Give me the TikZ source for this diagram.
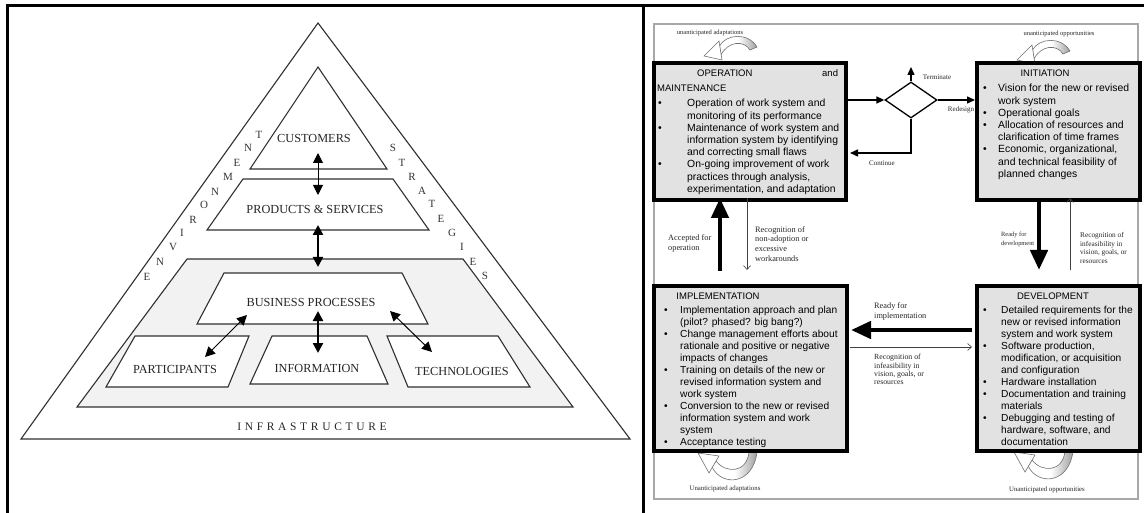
\documentclass[tikz,border=0pt]{standalone}
\usepackage{fontspec}
\setmainfont{Liberation Serif}
\setsansfont{Liberation Sans}
\usetikzlibrary{arrows.meta,shapes.geometric,shadings}
\definecolor{ln}{HTML}{303030}
\definecolor{trapfill}{HTML}{F2F2F2}
\definecolor{boxfill}{HTML}{E2E2E2}
\definecolor{rim}{HTML}{A8A8A8}
\definecolor{bandgray}{HTML}{A0A0A0}
\definecolor{bandline}{HTML}{707070}
\newcommand\TopTurn{%
  \shadedraw[left color=white,right color=bandgray,middle color=white,draw=bandline,line width=0.6pt]
    (719.5,46) .. controls (726,34) and (748,32) .. (757,47) -- (750,50) .. controls (744,40) and (728,41) .. (721,55) -- cycle;
  \filldraw[fill=white,draw=bandline,line width=0.6pt] (704,56) -- (719,41) -- (722,60) -- cycle;}
\newcommand\BotTurn{%
  \shadedraw[left color=white,right color=bandgray,middle color=white,draw=bandline,line width=0.6pt]
    (712,467) .. controls (722,487) and (753,485) .. (757,452) -- (749,452) .. controls (747,473) and (726,474) .. (716,461) -- cycle;
  \filldraw[fill=white,draw=bandline,line width=0.6pt] (698,453) -- (719,456) -- (709,473) -- cycle;}
\begin{document}
\begin{tikzpicture}[x=1pt,y=-1pt,
  frame/.style={draw=black,line width=3pt},
  tri/.style={draw=ln,line width=1.1pt,line join=miter},
  lbl/.style={font=\fontsize{12.3}{14}\selectfont,text=black!85,inner sep=0pt},
  ltr/.style={font=\fontsize{11}{12}\selectfont,text=black!80,inner sep=0pt},
  infra/.style={font=\fontsize{11.5}{13}\selectfont\addfontfeature{LetterSpace=32},text=black!85,inner sep=0pt},
  dblthin/.style={{Triangle[length=10pt,width=10pt]}-{Triangle[length=10pt,width=10pt]},line width=1pt,draw=black},
  dblthick/.style={{Triangle[length=10pt,width=10pt]}-{Triangle[length=10pt,width=10pt]},line width=2.2pt,draw=black},
  stagebox/.style={draw=black,line width=4pt,fill=boxfill,inner sep=0pt,outer sep=0pt},
  otxt/.style={font=\sffamily\fontsize{10.4}{12}\selectfont,anchor=base west,inner sep=0pt},
  itxt/.style={font=\sffamily\fontsize{10.2}{12}\selectfont,anchor=base west,inner sep=0pt},
  ttl/.style={font=\sffamily\fontsize{9.5}{11}\selectfont,inner sep=0pt},
  nt/.style={align=left,inner sep=0pt,anchor=north west,text=black!85},
  sarr/.style={-{Triangle[length=8pt,width=7pt]},line width=1.4pt},
  barr/.style={-{Triangle[length=20pt,width=17pt]},line width=4.5pt},
  tarr/.style={-{Straight Barb[length=4pt,width=7pt]},line width=0.6pt,draw=black!75}
]
\useasboundingbox (0,0) rectangle (1144,513);
% ---------- frame ----------
\draw[frame] (7,513) -- (7,6) -- (1144,6);
\draw[frame] (643,6) -- (643,513);

% ---------- left panel ----------
\draw[tri] (318,23) -- (21,439) -- (630,439) -- cycle;
\filldraw[tri,fill=trapfill] (187,259) -- (463,259) -- (573,407) -- (77,407) -- cycle;
\filldraw[tri,fill=white] (318,67) -- (387,169) -- (250,169) -- cycle;
\filldraw[tri,fill=white] (243,179) -- (393,179) -- (429,230) -- (207,230) -- cycle;
\filldraw[tri,fill=white] (224,273) -- (402,273) -- (428,324) -- (197,324) -- cycle;
\filldraw[tri,fill=white] (135,336) -- (249,336) -- (228,387) -- (106,387) -- cycle;
\filldraw[tri,fill=white] (272,336) -- (367,336) -- (388,384) -- (250,384) -- cycle;
\filldraw[tri,fill=white] (387,336) -- (498,336) -- (530,387) -- (408,387) -- cycle;

\node[lbl] (cust) at (314,138) {CUSTOMERS};
\node[lbl] (prod) at (315,210) {PRODUCTS \& SERVICES};
\node[lbl] (bp) at (311,302) {BUSINESS PROCESSES};
\node[lbl] (part) at (175,369) {PARTICIPANTS};
\node[lbl] (info) at (317,368) {INFORMATION};
\node[lbl] (tech) at (462,371) {TECHNOLOGIES};
\node[infra] (infr) at (312,427) {INFRASTRUCTURE};

\coordinate (cp1) at (318,153); \coordinate (cp2) at (318,195);
\coordinate (pb1) at (318,225); \coordinate (pb2) at (318,267);
\coordinate (bi1) at (318,311); \coordinate (bi2) at (318,353);
\coordinate (bpa1) at (247,315); \coordinate (bpa2) at (205,357);
\coordinate (bt1) at (390,311); \coordinate (bt2) at (432,352);
\draw[dblthin] (cp1) -- (cp2);
\draw[dblthick] (pb1) -- (pb2);
\draw[dblthick] (bi1) -- (bi2);
\draw[dblthin] (bpa1) -- (bpa2);
\draw[dblthin] (bt1) -- (bt2);

\foreach \c/\x/\y [count=\i] in {E/147/277,N/160/262,V/173/247,I/182/233,R/193/220,O/204/205,N/215/192,M/228/177,E/237/163,N/248/148,T/259/135}
  \node[ltr] (env\i) at (\x,\y) {\c};
\foreach \c/\x/\y [count=\i] in {S/393/148,T/402/163,R/412/177,A/422/191,T/432/204,E/441/219,G/452/233,I/462/247,E/473/262,S/485/276}
  \node[ltr] (str\i) at (\x,\y) {\c};

% ---------- right panel ----------
\draw[draw=rim,line width=1.5pt] (654,24) rectangle (1138,499);

\TopTurn
\begin{scope}[shift={(313,4)}]\TopTurn\end{scope}
\BotTurn
\begin{scope}[shift={(316,-1)}]\BotTurn\end{scope}

\node[nt,anchor=center,font=\fontsize{6.5}{7}\selectfont] (ua) at (710,33) {unanticipated adaptations};
\node[nt,anchor=center,font=\fontsize{6.5}{7}\selectfont] (uo) at (1059,34) {unanticipated opportunities};
\node[nt,anchor=center,font=\fontsize{6.8}{7}\selectfont] (Ua) at (725,489) {Unanticipated adaptations};
\node[nt,anchor=center,font=\fontsize{6.8}{7}\selectfont] (Uo) at (1047,490) {Unanticipated opportunities};

\node[stagebox,minimum width=192pt,minimum height=137pt] (op) at (750,131.5) {};
\node[stagebox,minimum width=163pt,minimum height=137pt] (init) at (1058.5,131.5) {};
\node[stagebox,minimum width=193pt,minimum height=165pt] (impl) at (750.5,368.5) {};
\node[stagebox,minimum width=163pt,minimum height=165pt] (dev) at (1058.5,368.5) {};

% operation text
\node[ttl,anchor=base west] (opt1) at (697,77) {OPERATION};
\node[ttl,anchor=base west] (opt2) at (822,77) {and};
\node[ttl,anchor=base west] (opt3) at (657,92) {MAINTENANCE};
\foreach \t [count=\i from 0] in {Operation of work system and,monitoring of its performance,Maintenance of work system and,information system by identifying,and correcting small flaws,On-going improvement of work,{practices through analysis,},{experimentation, and adaptation}}
  \node[otxt] (opl\i) at (687,107+12.2*\i) {\t};
\foreach \i in {0,2,5}
  \node[otxt] (opb\i) at (658,107+12.2*\i) {•};

% initiation text
\node[ttl,anchor=base] (init0) at (1045,77) {INITIATION};
\foreach \t [count=\i from 0] in {Vision for the new or revised,work system,Operational goals,Allocation of resources and,clarification of time frames,{Economic, organizational,},and technical feasibility of,planned changes}
  \node[otxt] (inl\i) at (998,92+12.2*\i) {\t};
\foreach \i in {0,2,3,5}
  \node[otxt] (inb\i) at (983,92+12.2*\i) {•};

% implementation text
\node[ttl,anchor=base] (imp0) at (718,299.5) {IMPLEMENTATION};
\foreach \t [count=\i from 0] in {Implementation approach and plan,(pilot? phased? big bang?),Change management efforts about,rationale and positive or negative,impacts of changes,Training on details of the new or,revised information system and,work system,Conversion to the new or revised,information system and work,system,Acceptance testing}
  \node[itxt] (iml\i) at (680,313.6+12*\i) {\t};
\foreach \i in {0,2,5,8,11}
  \node[itxt] (imb\i) at (664,313.6+12*\i) {•};

% development text
\node[ttl,anchor=base] (dev0) at (1053,299.5) {DEVELOPMENT};
\foreach \t [count=\i from 0] in {Detailed requirements for the,new or revised information,system and work system,{Software production,},{modification, or acquisition},and configuration,Hardware installation,Documentation and training,materials,Debugging and testing of,{hardware, software, and},documentation}
  \node[itxt] (dvl\i) at (1001,313.6+12*\i) {\t};
\foreach \i in {0,3,6,7,9}
  \node[itxt] (dvb\i) at (983,313.6+12*\i) {•};

% decision diamond
\node[draw=black,line width=1.3pt,diamond,minimum width=52pt,minimum height=36pt,inner sep=0pt] (dia) at (911,100) {};
\coordinate (term) at (911,67);
\coordinate (cont) at (911,153);
\draw[sarr] (op.east |- dia.west) -- (dia.west);
\draw[sarr] (dia.north) -- (term);
\draw[sarr] (dia.east) -- ([xshift=-2pt]init.west |- dia.east);
\draw[sarr] (dia.south) -- (cont) -- ([xshift=4pt]op.east |- cont);
\node[nt,anchor=center,font=\fontsize{7}{8}\selectfont] (termt) at (937,77) {Terminate};
\node[nt,anchor=center,font=\fontsize{7}{8}\selectfont] (redt) at (961,110) {Redesign};
\node[nt,anchor=center,font=\fontsize{7}{8}\selectfont] (contt) at (882,163) {Continue};

% transitions between stages
\coordinate (acc0) at (720,271);
\coordinate (na0) at (747,270);
\coordinate (rd1) at (1039,270);
\coordinate (if0) at (1070,270);
\coordinate (ri0) at (972,330); \coordinate (ri1) at (851,330);
\coordinate (ir0) at (850,347); \coordinate (ir1) at (972,347);
\draw[barr] (acc0) -- ([yshift=2pt]op.south -| acc0);
\draw[tarr] ([yshift=2pt]op.south -| na0) -- (na0);
\draw[barr] ([yshift=2pt]init.south -| rd1) -- (rd1);
\draw[tarr] (if0) -- ([yshift=2pt]init.south -| if0);
\draw[barr] (ri0) -- (ri1);
\draw[tarr] (ir0) -- (ir1);

\node[nt,font=\fontsize{8.3}{10}\selectfont] (acct) at (668,234) {Accepted for\\operation};
\node[nt,font=\fontsize{8.3}{9.7}\selectfont] (nat) at (755,226) {Recognition of\\non-adoption or\\excessive\\workarounds};
\node[nt,font=\fontsize{6.4}{8.5}\selectfont] (rdt) at (1001,232) {Ready for\\development};
\node[nt,font=\fontsize{7.3}{8.7}\selectfont] (ift) at (1080,232) {Recognition of\\infeasibility in\\vision, goals, or\\resources};
\node[nt,font=\fontsize{8.3}{10.7}\selectfont] (rit) at (874,302) {Ready for\\implementation};
\node[nt,font=\fontsize{7.8}{8.4}\selectfont] (irt) at (874,354) {Recognition of\\infeasibility in\\vision, goals, or\\resources};
\end{tikzpicture}
\end{document}
